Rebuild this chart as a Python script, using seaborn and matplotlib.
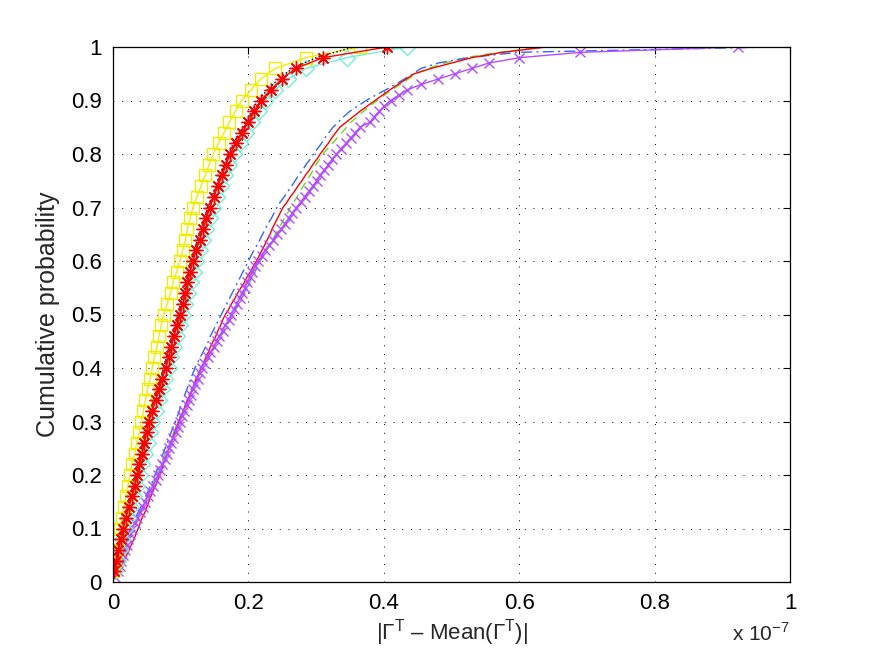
import numpy as np
import pandas as pd
import matplotlib
matplotlib.use("Agg")
import matplotlib.pyplot as plt
import seaborn as sns

# |Gamma^T - Mean(Gamma^T)| samples, in units of 1e-7

# left group (50 samples each)
yellow_sq = [0.000, 0.003, 0.005, 0.008, 0.010, 0.013, 0.016, 0.019, 0.022, 0.025,
             0.028, 0.032, 0.035, 0.039, 0.042, 0.045, 0.048, 0.051, 0.055, 0.058,
             0.061, 0.065, 0.068, 0.071, 0.075, 0.080, 0.085, 0.089, 0.094, 0.099,
             0.103, 0.107, 0.110, 0.114, 0.118, 0.124, 0.130, 0.136, 0.142, 0.148,
             0.156, 0.164, 0.172, 0.181, 0.190, 0.204, 0.218, 0.240, 0.285, 0.365]

red_star = [0.002, 0.005, 0.008, 0.012, 0.015, 0.019, 0.023, 0.028, 0.032, 0.036,
            0.039, 0.043, 0.046, 0.050, 0.053, 0.058, 0.063, 0.068, 0.073, 0.078,
            0.082, 0.086, 0.090, 0.095, 0.099, 0.103, 0.107, 0.110, 0.114, 0.118,
            0.123, 0.128, 0.133, 0.138, 0.143, 0.149, 0.155, 0.161, 0.167, 0.173,
            0.182, 0.191, 0.200, 0.209, 0.218, 0.233, 0.249, 0.270, 0.310, 0.405]

cyan_dia = [0.003, 0.007, 0.010, 0.014, 0.018, 0.022, 0.027, 0.031, 0.036, 0.040,
            0.043, 0.047, 0.051, 0.054, 0.058, 0.063, 0.068, 0.072, 0.077, 0.082,
            0.086, 0.090, 0.095, 0.099, 0.103, 0.107, 0.111, 0.115, 0.119, 0.123,
            0.128, 0.133, 0.138, 0.143, 0.148, 0.154, 0.160, 0.166, 0.172, 0.178,
            0.187, 0.196, 0.205, 0.215, 0.225, 0.240, 0.258, 0.285, 0.345, 0.434]

black_dot = [0.001, 0.004, 0.007, 0.010, 0.013, 0.017, 0.021, 0.025, 0.029, 0.033,
             0.037, 0.040, 0.044, 0.047, 0.051, 0.055, 0.060, 0.065, 0.070, 0.075,
             0.079, 0.083, 0.087, 0.092, 0.096, 0.100, 0.104, 0.107, 0.111, 0.115,
             0.120, 0.125, 0.130, 0.135, 0.140, 0.146, 0.152, 0.158, 0.164, 0.170,
             0.178, 0.187, 0.196, 0.205, 0.214, 0.228, 0.244, 0.265, 0.300, 0.355]

# right group (100 samples each)
purple_x = [0.003, 0.007, 0.010, 0.012, 0.015, 0.017, 0.020, 0.022, 0.025, 0.028,
            0.032, 0.036, 0.040, 0.044, 0.048, 0.051, 0.055, 0.059, 0.063, 0.067,
            0.070, 0.073, 0.077, 0.080, 0.083, 0.086, 0.089, 0.093, 0.096, 0.099,
            0.102, 0.105, 0.109, 0.112, 0.115, 0.118, 0.121, 0.125, 0.128, 0.131,
            0.135, 0.140, 0.144, 0.149, 0.153, 0.157, 0.162, 0.166, 0.171, 0.175,
            0.179, 0.183, 0.187, 0.191, 0.195, 0.198, 0.202, 0.206, 0.210, 0.214,
            0.220, 0.225, 0.231, 0.237, 0.242, 0.248, 0.254, 0.260, 0.265, 0.271,
            0.277, 0.283, 0.289, 0.295, 0.301, 0.306, 0.312, 0.318, 0.324, 0.330,
            0.337, 0.344, 0.351, 0.358, 0.365, 0.380, 0.386, 0.393, 0.401, 0.410,
            0.422, 0.435, 0.455, 0.480, 0.505, 0.530, 0.555, 0.600, 0.690, 0.923]

red_line = [0.003, 0.007, 0.011, 0.016, 0.020, 0.024, 0.027, 0.031, 0.034, 0.037,
            0.040, 0.043, 0.047, 0.050, 0.053, 0.056, 0.059, 0.063, 0.066, 0.069,
            0.072, 0.074, 0.077, 0.080, 0.083, 0.086, 0.088, 0.091, 0.094, 0.097,
            0.100, 0.104, 0.107, 0.110, 0.114, 0.117, 0.120, 0.123, 0.127, 0.130,
            0.134, 0.137, 0.141, 0.144, 0.148, 0.152, 0.155, 0.159, 0.162, 0.166,
            0.171, 0.175, 0.180, 0.184, 0.189, 0.194, 0.198, 0.203, 0.207, 0.212,
            0.216, 0.220, 0.224, 0.228, 0.232, 0.235, 0.239, 0.243, 0.247, 0.251,
            0.257, 0.262, 0.268, 0.273, 0.279, 0.284, 0.290, 0.295, 0.301, 0.306,
            0.312, 0.318, 0.323, 0.329, 0.335, 0.345, 0.355, 0.365, 0.376, 0.387,
            0.398, 0.409, 0.421, 0.433, 0.445, 0.470, 0.500, 0.530, 0.575, 0.640]

blue_dashdot = [0.002, 0.005, 0.007, 0.010, 0.012, 0.015, 0.018, 0.020, 0.023, 0.026,
                0.030, 0.033, 0.037, 0.041, 0.045, 0.048, 0.052, 0.055, 0.059, 0.062,
                0.065, 0.068, 0.071, 0.074, 0.077, 0.080, 0.083, 0.086, 0.089, 0.092,
                0.095, 0.098, 0.100, 0.103, 0.106, 0.109, 0.112, 0.115, 0.118, 0.121,
                0.125, 0.129, 0.133, 0.137, 0.141, 0.144, 0.148, 0.152, 0.156, 0.160,
                0.164, 0.168, 0.172, 0.176, 0.180, 0.184, 0.188, 0.192, 0.196, 0.200,
                0.204, 0.208, 0.213, 0.217, 0.221, 0.225, 0.229, 0.234, 0.238, 0.242,
                0.247, 0.253, 0.258, 0.264, 0.269, 0.274, 0.280, 0.285, 0.291, 0.296,
                0.302, 0.308, 0.313, 0.319, 0.325, 0.333, 0.341, 0.350, 0.362, 0.374,
                0.388, 0.403, 0.417, 0.430, 0.443, 0.455, 0.480, 0.525, 0.596, 0.975]

green_dashed = [0.003, 0.006, 0.009, 0.012, 0.015, 0.018, 0.021, 0.024, 0.027, 0.030,
                0.033, 0.037, 0.040, 0.044, 0.047, 0.050, 0.054, 0.057, 0.061, 0.064,
                0.067, 0.071, 0.074, 0.077, 0.081, 0.084, 0.087, 0.090, 0.094, 0.097,
                0.100, 0.104, 0.107, 0.110, 0.114, 0.117, 0.120, 0.123, 0.127, 0.130,
                0.135, 0.140, 0.144, 0.149, 0.154, 0.159, 0.164, 0.168, 0.173, 0.178,
                0.182, 0.186, 0.190, 0.194, 0.198, 0.202, 0.206, 0.210, 0.214, 0.218,
                0.222, 0.227, 0.231, 0.236, 0.240, 0.244, 0.249, 0.253, 0.258, 0.262,
                0.267, 0.272, 0.276, 0.281, 0.286, 0.291, 0.296, 0.300, 0.305, 0.310,
                0.317, 0.324, 0.331, 0.338, 0.345, 0.352, 0.361, 0.370, 0.380, 0.390,
                0.401, 0.412, 0.424, 0.436, 0.448, 0.465, 0.490, 0.520, 0.570, 0.635]

x_ticks = [0, 0.2, 0.4, 0.6, 0.8, 1]
x_tick_labels = ['0', '0.2', '0.4', '0.6', '0.8', '1']
y_ticks = [0, 0.1, 0.2, 0.3, 0.4, 0.5, 0.6, 0.7, 0.8, 0.9, 1]
y_tick_labels = ['0', '0.1', '0.2', '0.3', '0.4', '0.5', '0.6', '0.7', '0.8', '0.9', '1']

sns.set_style("white")
plt.rcParams['font.family'] = ['Liberation Sans', 'DejaVu Sans']
plt.rcParams['mathtext.fontset'] = 'custom'
plt.rcParams['mathtext.rm'] = 'Liberation Sans'

fig = plt.figure(figsize=(8.72, 6.55), dpi=100)
ax = fig.add_axes([113/872, 1 - 582/655, (790 - 113)/872, (582 - 47)/655])

# right group
sns.ecdfplot(x=green_dashed, ax=ax, color='#66dd22', dashes=(6, 4), lw=1.0)
sns.ecdfplot(x=blue_dashdot, ax=ax, color='#3366ff', dashes=(8, 3, 1.5, 3), lw=1.0)
sns.ecdfplot(x=red_line, ax=ax, color='red', ls='-', lw=1.0)
sns.ecdfplot(x=purple_x, ax=ax, color='#b24dff', lw=1.0, marker='x', ms=7, mew=1.0)

# left group
sns.ecdfplot(x=cyan_dia, ax=ax, color='#70f0d8', lw=1.0, marker='D', ms=8,
             mfc='none', mew=1.0)
sns.ecdfplot(x=yellow_sq, ax=ax, color='#eeee00', lw=1.0, marker='s', ms=9,
             mfc='none', mew=1.0)
sns.ecdfplot(x=black_dot, ax=ax, color='black', ls=':', lw=1.0)
sns.ecdfplot(x=red_star, ax=ax, color='red', lw=1.0, marker=(8, 2, 0), ms=10, mew=1.0)

# join the sample points directly, as in the original figure
for ln in ax.lines:
    ln.set_drawstyle('default')

ax.set_xlim(0, 1)
ax.set_ylim(0, 1)
ax.set_xticks(x_ticks)
ax.set_xticklabels(x_tick_labels)
ax.set_yticks(y_ticks)
ax.set_yticklabels(y_tick_labels)
ax.tick_params(direction='in', length=5, width=0.8, top=True, right=True,
               labelsize=16, colors='black')
ax.tick_params(axis='x', pad=8)
ax.tick_params(axis='y', pad=8)
ax.grid(True, color='black', ls=(0, (1, 8)), lw=0.7)
ax.set_axisbelow(True)
for s in ax.spines.values():
    s.set_color('black')
    s.set_linewidth(0.9)

ax.set_xlabel(r'|Γ$^\mathregular{T}$ – Mean(Γ$^\mathregular{T}$)|', fontsize=16, labelpad=2)
ax.set_ylabel('Cumulative probability', fontsize=18, labelpad=8)
fig.text(790/872, 1 - 641/655, r'x 10$^\mathregular{-7}$', ha='right', va='baseline', fontsize=15)

fig.savefig('out.png', dpi=100)
